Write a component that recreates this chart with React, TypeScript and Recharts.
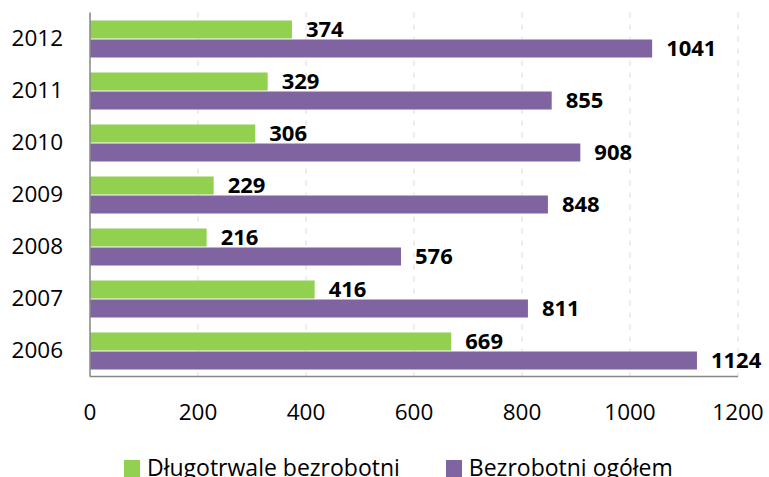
import React from 'react';
import { BarChart, Bar, XAxis, YAxis, CartesianGrid, Legend, LabelList } from 'recharts';

const years = ['2012', '2011', '2010', '2009', '2008', '2007', '2006'];
const longTerm = [374, 329, 306, 229, 216, 416, 669];
const total = [1041, 855, 908, 848, 576, 811, 1124];
const xTicks = [0, 200, 400, 600, 800, 1000, 1200];

const GREEN = '#92D050';
const PURPLE = '#8064A2';
const FONT = '"Open Sans", "Noto Sans", sans-serif';

const data = years.map((year, i) => ({ year, longTerm: longTerm[i], total: total[i] }));

const legendItems = [
  { name: 'Długotrwale bezrobotni', color: GREEN },
  { name: 'Bezrobotni ogółem', color: PURPLE },
];

const renderLegend = () => (
  <div style={{ display: 'flex', height: 30, paddingLeft: 124, fontFamily: FONT, fontSize: 23 }}>
    {legendItems.map((item) => (
      <div key={item.name} style={{ display: 'flex', alignItems: 'flex-start', marginRight: 46 }}>
        <span style={{ width: 16, height: 20, background: item.color, marginTop: 7, marginRight: 7 }} />
        <span style={{ lineHeight: '28px', color: '#000', whiteSpace: 'nowrap' }}>{item.name}</span>
      </div>
    ))}
  </div>
);

const App = () => {
  return (
    <div style={{ position: 'absolute', left: 0, top: 0, background: '#fff', overflow: 'hidden', width: 769, height: 477 }}>
      <BarChart
        width={769}
        height={477}
        data={data}
        layout="vertical"
        margin={{ top: 12.5, right: 31, bottom: 10.5, left: 0 }}
        barSize={18}
        barGap={1}
      >
        <CartesianGrid horizontal={false} stroke="#d9d9d9" strokeDasharray="5 7" />
        <XAxis
          type="number"
          domain={[0, 1200]}
          ticks={xTicks}
          interval={0}
          tickLine={false}
          tickMargin={22}
          height={60}
          axisLine={{ stroke: '#888', strokeWidth: 1.5 }}
          tick={{ fill: '#000', fontSize: 22.5, fontFamily: FONT }}
        />
        <YAxis
          type="category"
          dataKey="year"
          width={90}
          tickLine={false}
          tickMargin={21}
          axisLine={{ stroke: '#888', strokeWidth: 1.5 }}
          tick={{ fill: '#000', fontSize: 22.5, fontFamily: FONT }}
        />
        <Legend verticalAlign="bottom" content={renderLegend} wrapperStyle={{ top: 453, left: 0 }} />
        <Bar dataKey="longTerm" name="Długotrwale bezrobotni" fill={GREEN} isAnimationActive={false}>
          <LabelList
            dataKey="longTerm"
            position="right"
            offset={14}
            fill="#000"
            style={{ fontSize: 22, fontWeight: 'bold', fontFamily: FONT }}
          />
        </Bar>
        <Bar dataKey="total" name="Bezrobotni ogółem" fill={PURPLE} isAnimationActive={false}>
          <LabelList
            dataKey="total"
            position="right"
            offset={14}
            fill="#000"
            style={{ fontSize: 22, fontWeight: 'bold', fontFamily: FONT }}
          />
        </Bar>
      </BarChart>
    </div>
  );
};

export default App;
